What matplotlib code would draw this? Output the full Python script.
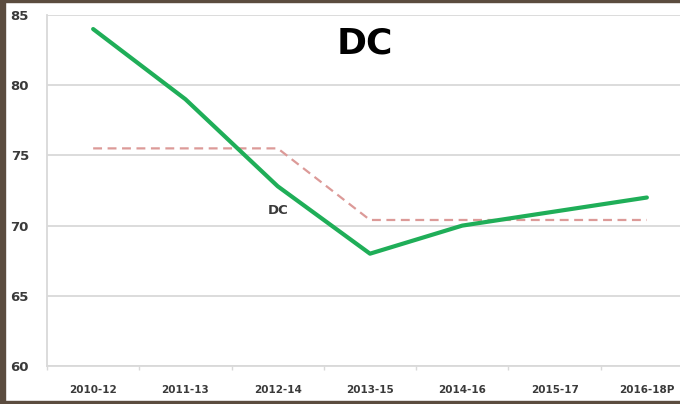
import matplotlib.pyplot as plt
from matplotlib.patches import Rectangle

# 3년 이동 구간별 값
periods = ['2010-12', '2011-13', '2012-14', '2013-15', '2014-16', '2015-17', '2016-18P']
dc_values = [84.0, 79.0, 72.8, 68.0, 70.0, 71.0, 72.0]
dc_average = [75.5, 75.5, 75.5, 70.4, 70.4, 70.4, 70.4]
y_ticks = [60, 65, 70, 75, 80, 85]

fig = plt.figure(figsize=(6.8, 4.04), dpi=100)
fig.patch.set_facecolor('white')

# 축 영역 (오른쪽은 그림 밖으로 조금 넘어감)
ax = fig.add_axes([47 / 680, 38 / 404, 646 / 680, 351 / 404])
x = list(range(len(periods)))

ax.plot(x, dc_average, color='#dc9a98', linewidth=1.6, dashes=(4, 2.5), zorder=3)
ax.plot(x, dc_values, color='#1fae58', linewidth=3.0, solid_capstyle='round',
        solid_joinstyle='round', zorder=4)

ax.set_xlim(-0.5, 6.5)
ax.set_ylim(60, 85)
ax.set_yticks(y_ticks)
ax.set_xticks(x)
ax.set_xticklabels(periods)

# 격자와 축선
ax.grid(axis='y', color='#d9d9d9', linewidth=1.3)
ax.set_axisbelow(True)
for side in ['top', 'right']:
    ax.spines[side].set_visible(False)
ax.spines['left'].set_color('#d9d9d9')
ax.spines['left'].set_linewidth(1.3)
ax.spines['bottom'].set_color('#d9d9d9')
ax.spines['bottom'].set_linewidth(1.3)

ax.tick_params(axis='y', length=0, pad=13, labelsize=9.5, labelcolor='#3a3a3a')
ax.tick_params(axis='x', length=0, pad=14, labelsize=7.5, labelcolor='#3a3a3a')
for lbl in ax.get_xticklabels() + ax.get_yticklabels():
    lbl.set_fontweight('bold')

# 구간 경계의 작은 눈금
ax.set_xticks([i + 0.5 for i in range(-1, 7)], minor=True)
ax.tick_params(axis='x', which='minor', length=3, color='#d9d9d9', width=1)

ax.text(2.0, 71.1, 'DC', fontsize=9.5, fontweight='bold', color='#3a3a3a',
        ha='center', va='center')
fig.text(365 / 680, 1 - 43 / 404, 'DC', fontsize=26, fontweight='bold',
         color='black', ha='center', va='center')

# 슬라이드 가장자리 테두리
brown = '#5b4c3f'
fig.patches.append(Rectangle((0, 0), 5 / 680, 1, transform=fig.transFigure,
                             color=brown, zorder=10))
fig.patches.append(Rectangle((0, 1 - 2 / 404), 1, 2 / 404, transform=fig.transFigure,
                             color=brown, zorder=10))
fig.patches.append(Rectangle((0, 0), 1, 3 / 404, transform=fig.transFigure,
                             color=brown, zorder=10))

fig.savefig('out.png', dpi=100, facecolor='white')
